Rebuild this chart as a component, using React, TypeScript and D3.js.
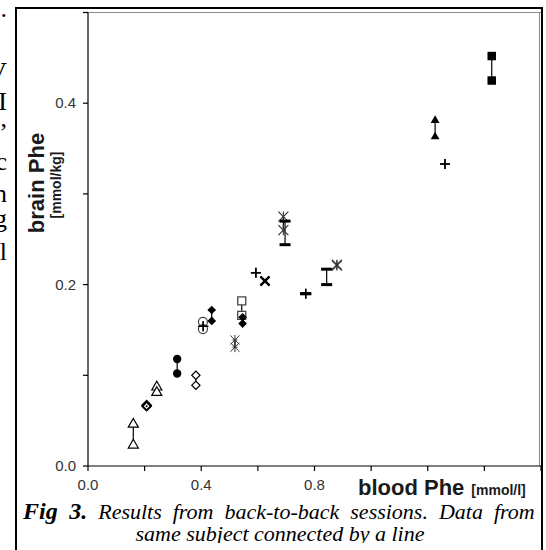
import * as d3 from "d3";

// one entry per subject: marker, then the two sessions (blood, brain)
const markers = [
  "openTriangle", "dotDiamond", "openTriangle", "filledCircle", "openDiamond",
  "openCircle", "plus", "filledDiamond", "star", "openSquare", "filledDiamond",
  "plus", "cross", "xStar", "dash", "dash", "plus", "dash", "xStar",
  "filledTriangle", "plus", "filledSquare",
];
const blood1 = [
  0.160, 0.207, 0.243, 0.315, 0.381, 0.406, 0.407, 0.437, 0.519, 0.543, 0.546,
  0.593, 0.625, 0.690, 0.696, 0.769, 0.769, 0.843, 0.879, 1.226, 1.261, 1.426,
];
const brain1 = [
  0.046, 0.067, 0.087, 0.118, 0.100, 0.159, 0.154, 0.172, 0.139, 0.182, 0.164,
  0.213, 0.204, 0.275, 0.270, 0.190, 0.190, 0.217, 0.222, 0.381, 0.333, 0.452,
];
const blood2 = [
  0.160, 0.207, 0.243, 0.315, 0.381, 0.406, 0.407, 0.437, 0.519, 0.543, 0.546,
  0.593, 0.625, 0.690, 0.696, 0.769, 0.769, 0.843, 0.879, 1.226, 1.261, 1.426,
];
const brain2 = [
  0.023, 0.066, 0.081, 0.102, 0.089, 0.151, 0.154, 0.160, 0.131, 0.166, 0.157,
  0.213, 0.204, 0.260, 0.244, 0.190, 0.190, 0.200, 0.221, 0.363, 0.333, 0.425,
];

const xLabelled = [0, 0.4, 0.8];
const yLabelled = [0, 0.2, 0.4];

// clipped end of the neighbouring text column
const sideText = [".", "V", "I", ",", "c", "n", "g", "l"];
const sideY = [17, 80, 110, 127, 170, 202, 227, 260];

const sans = "Arial, 'Liberation Sans', sans-serif";
const serif = "'Times New Roman', 'Liberation Serif', serif";

function Marker({ type, cx, cy }: { type: string; cx: number; cy: number }) {
  const t = `translate(${cx},${cy})`;
  const sym = (s: d3.SymbolType, size: number) => d3.symbol(s, size)() || "";
  switch (type) {
    case "openTriangle":
      return <path transform={t} d={sym(d3.symbolTriangle, 44)} fill="#fff" stroke="#000" strokeWidth={1.2} />;
    case "filledTriangle":
      return <path transform={t} d={sym(d3.symbolTriangle, 34)} fill="#000" />;
    case "filledCircle":
      return <circle cx={cx} cy={cy} r={4.2} fill="#000" />;
    case "openCircle":
      return <circle cx={cx} cy={cy} r={4.5} fill="#fff" stroke="#444" strokeWidth={1.2} />;
    case "openSquare":
      return <path transform={t} d={sym(d3.symbolSquare, 64)} fill="#fff" stroke="#444" strokeWidth={1.3} />;
    case "filledSquare":
      return <path transform={t} d={sym(d3.symbolSquare, 72)} fill="#000" />;
    case "openDiamond":
      return <path transform={`${t} rotate(45)`} d={sym(d3.symbolSquare, 34)} fill="#fff" stroke="#000" strokeWidth={1.2} />;
    case "dotDiamond":
      return (
        <g transform={t}>
          <path transform="rotate(45)" d={sym(d3.symbolSquare, 36)} fill="#fff" stroke="#000" strokeWidth={2} />
          <circle r={1} fill="#000" />
        </g>
      );
    case "filledDiamond":
      return <path transform={`${t} rotate(45)`} d={sym(d3.symbolSquare, 38)} fill="#000" />;
    case "plus":
      return (
        <g transform={t} stroke="#000" strokeWidth={1.4}>
          <line x1={-5} x2={5} y1={0} y2={0} />
          <line x1={0} x2={0} y1={-5} y2={5} />
        </g>
      );
    case "cross":
      return (
        <g transform={t} stroke="#000" strokeWidth={2.2}>
          <line x1={-4.5} x2={4.5} y1={-4.5} y2={4.5} />
          <line x1={-4.5} x2={4.5} y1={4.5} y2={-4.5} />
        </g>
      );
    case "star":
      return (
        <g transform={t} stroke="#333" strokeWidth={1}>
          <line x1={-4.5} x2={4.5} y1={-4.5} y2={4.5} />
          <line x1={-4.5} x2={4.5} y1={4.5} y2={-4.5} />
          <line x1={0} x2={0} y1={-5} y2={5} />
          <line x1={-2.5} x2={2.5} y1={0} y2={0} />
        </g>
      );
    case "xStar":
      return (
        <g transform={t} stroke="#333" strokeWidth={1.1}>
          <line x1={-5} x2={5} y1={-5} y2={5} />
          <line x1={-5} x2={5} y1={5} y2={-5} />
          <line x1={0} x2={0} y1={-5} y2={5} />
        </g>
      );
    case "dash":
      return <rect x={cx - 5.5} y={cy - 1.5} width={11} height={3} fill="#000" />;
    default:
      return null;
  }
}

export default function App() {
  const x = d3.scaleLinear().domain([0, 1.6]).range([88, 541]);
  const y = d3.scaleLinear().domain([0, 0.5]).range([466, 12.5]);
  const xTicks = x.ticks(8);
  const yTicks = y.ticks(5);
  const idx = d3.range(markers.length);

  return (
    <svg
      width={546}
      height={550}
      style={{ position: "absolute", left: 0, top: 0, background: "#fff" }}
    >
      <defs>
        <clipPath id="captionClip">
          <rect x={0} y={0} width={546} height={543} />
        </clipPath>
      </defs>

      {sideText.map((s, i) => (
        <text key={i} x={7} y={sideY[i]} textAnchor="end" fontFamily={serif} fontSize={26} fill="#000">
          {s}
        </text>
      ))}

      {/* outer frame */}
      <rect x={16} y={8} width={526} height={560} fill="none" stroke="#000" strokeWidth={2} />

      {/* plot frame */}
      <line x1={x(0)} x2={x(1.6)} y1={y(0.5)} y2={y(0.5)} stroke="#888" strokeWidth={1} />
      <line x1={x(1.6) - 1.5} x2={x(1.6) - 1.5} y1={y(0.5)} y2={y(0)} stroke="#888" strokeWidth={1} />
      <line x1={x(0)} x2={x(0)} y1={y(0.5)} y2={y(0)} stroke="#000" strokeWidth={1.2} />
      <line x1={x(0)} x2={x(1.6)} y1={y(0)} y2={y(0)} stroke="#000" strokeWidth={1.2} />

      {yTicks.map((v) => (
        <line key={v} x1={x(0) - 5} x2={x(0)} y1={y(v)} y2={y(v)} stroke="#000" strokeWidth={1.2} />
      ))}
      {xTicks.map((v) => (
        <line key={v} x1={x(v)} x2={x(v)} y1={y(0)} y2={y(0) + 5} stroke="#000" strokeWidth={1.2} />
      ))}
      {yLabelled.map((v) => (
        <text key={v} x={76} y={y(v)} dy="0.35em" textAnchor="end" fontFamily={sans} fontSize={15} fill="#333">
          {d3.format(".1f")(v)}
        </text>
      ))}
      {xLabelled.map((v) => (
        <text key={v} x={x(v)} y={490} textAnchor="middle" fontFamily={sans} fontSize={15} fill="#333">
          {d3.format(".1f")(v)}
        </text>
      ))}

      {/* axis titles */}
      <text x={358} y={495} fontFamily={sans} fontWeight="bold" fontSize={22} fill="#1a1a1a">
        blood Phe<tspan fontSize={14} dx={7}>[mmol/l]</tspan>
      </text>
      <text transform="translate(44,183) rotate(-90)" textAnchor="middle" fontFamily={sans} fontWeight="bold" fontSize={22} fill="#1a1a1a">
        brain Phe
      </text>
      <text transform="translate(61,185) rotate(-90)" textAnchor="middle" fontFamily={sans} fontWeight="bold" fontSize={14} fill="#1a1a1a">
        [mmol/kg]
      </text>

      {/* connecting lines between sessions */}
      {idx.map((i) => (
        <line key={`l${i}`} x1={x(blood1[i])} x2={x(blood2[i])} y1={y(brain1[i])} y2={y(brain2[i])} stroke="#000" strokeWidth={1.2} />
      ))}
      {idx.map((i) => (
        <g key={`m${i}`}>
          <Marker type={markers[i]} cx={x(blood1[i])} cy={y(brain1[i])} />
          <Marker type={markers[i]} cx={x(blood2[i])} cy={y(brain2[i])} />
        </g>
      ))}

      {/* caption */}
      <g clipPath="url(#captionClip)" fontFamily={serif} fontSize={22} fontStyle="italic" fill="#000">
        <text x={23} y={519} wordSpacing={5.5}>
          <tspan fontWeight="bold" fontSize={24}>Fig 3.</tspan> Results from back-to-back sessions. Data from
        </text>
        <text x={280} y={541} textAnchor="middle">
          same subject connected by a line
        </text>
      </g>
    </svg>
  );
}
